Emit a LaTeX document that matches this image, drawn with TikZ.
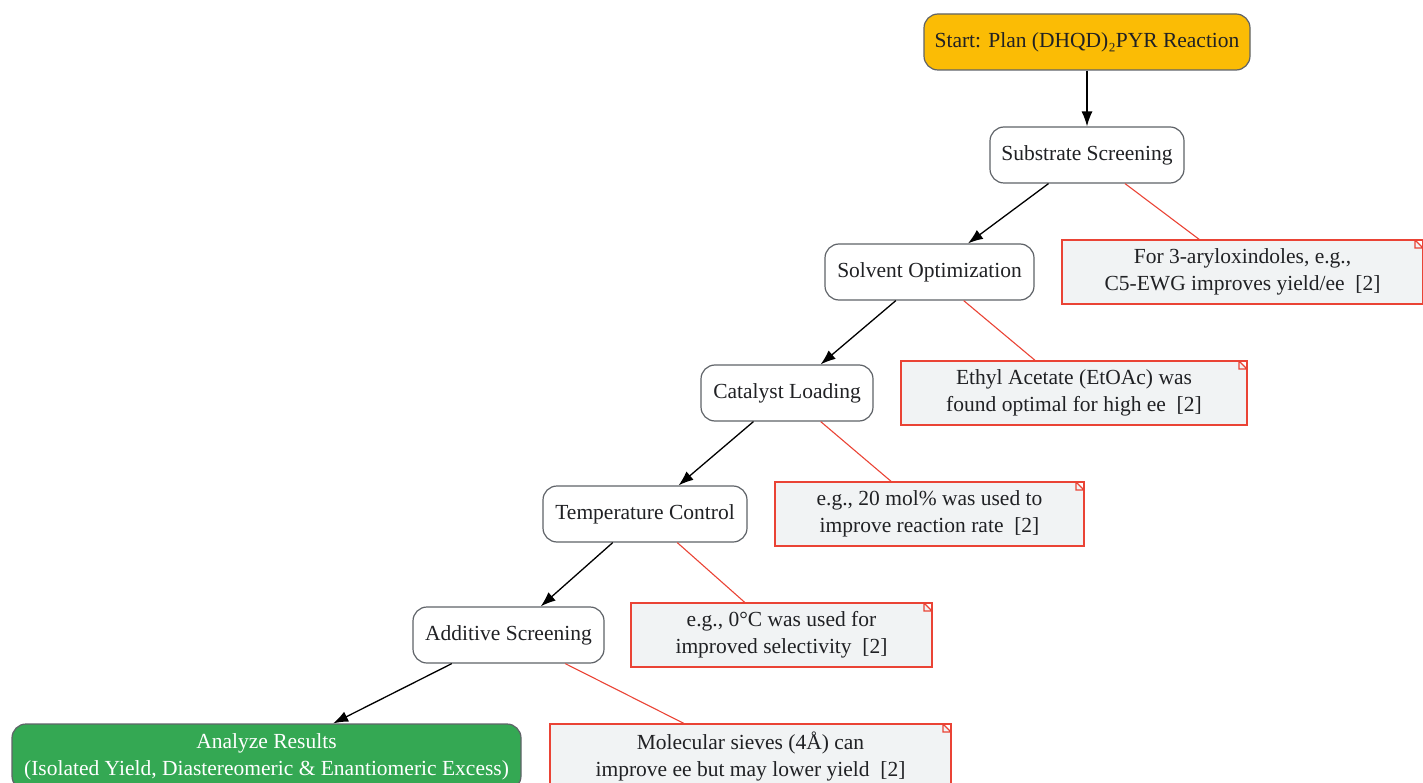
\documentclass[tikz,border=0pt]{standalone}
\usepackage{fontspec}
\setmainfont{Liberation Serif}
\usepackage{tikz}
\usetikzlibrary{arrows.meta}

\definecolor{startfill}{HTML}{FBBC05}
\definecolor{endfill}{HTML}{34A853}
\definecolor{notefill}{HTML}{F1F3F4}
\definecolor{notered}{HTML}{EA4335}
\definecolor{boxgray}{HTML}{5F6368}
\definecolor{txt}{HTML}{202124}

\begin{document}
\begin{tikzpicture}[x=1pt,y=-1pt]
\tikzstyle{stage}=[draw=boxgray, line width=1.2pt, rounded corners=14pt, minimum height=56pt, inner sep=0pt, align=center, text=txt, font=\fontsize{21.5}{27}\selectfont]
\tikzstyle{stage1}=[stage, fill=startfill]
\tikzstyle{stage2}=[stage, fill=white]
\tikzstyle{stage3}=[stage, fill=endfill, text=white, minimum height=66pt]
\tikzstyle{remark}=[draw=notered, line width=1.2pt, fill=notefill, minimum height=64pt, inner sep=0pt, align=center, text=txt, font=\fontsize{21.5}{27}\selectfont,
  path picture={\fill[white] (path picture bounding box.north east) -- ++(-8pt,0) -- ++(8pt,-8pt) -- cycle;
    \draw[notered, line width=1.2pt] ([xshift=-8pt]path picture bounding box.north east) -- ++(0,-8pt) -- ++(8pt,0) -- cycle;}]
\tikzstyle{flow}=[draw=black, line width=1.3pt, -{Latex[length=15pt,width=11pt]}]
\tikzstyle{link}=[draw=notered, line width=1.1pt]

\useasboundingbox (0,0) rectangle (1423,783);

\node (s0) at (1087,42) [stage1, minimum width=326pt] {Start: Plan (DHQD)₂PYR Reaction};
\node (s1) at (1087,155) [stage2, minimum width=194pt] {Substrate Screening};
\node (s2) at (929.5,272) [stage2, minimum width=209pt] {Solvent Optimization};
\node (s3) at (787,393) [stage2, minimum width=172pt] {Catalyst Loading};
\node (s4) at (645,514) [stage2, minimum width=204pt] {Temperature Control};
\node (s5) at (508.5,635) [stage2, minimum width=191pt] {Additive Screening};
\node (s6) at (266.5,757) [stage3, minimum width=509pt] {Analyze Results\\(Isolated Yield, Diastereomeric \& Enantiomeric Excess)};

\node (n1) at (1242.5,272) [remark, minimum width=361pt] {For 3-aryloxindoles, e.g.,\\C5-EWG improves yield/ee~~[2]};
\node (n2) at (1074,393) [remark, minimum width=346pt] {Ethyl Acetate (EtOAc) was\\found optimal for high ee~~[2]};
\node (n3) at (929.5,514) [remark, minimum width=309pt] {e.g., 20 mol\% was used to\\improve reaction rate~~[2]};
\node (n4) at (781.5,635) [remark, minimum width=301pt] {e.g., 0°C was used for\\improved selectivity~~[2]};
\node (n5) at (750.5,757) [remark, minimum width=401pt, minimum height=66pt] {Molecular sieves (4Å) can\\improve ee but may lower yield~~[2]};

% main sequence
\draw[flow] (s0) -- (s1);
\draw[flow] (s1) -- (s2);
\draw[flow] (s2) -- (s3);
\draw[flow] (s3) -- (s4);
\draw[flow] (s4) -- (s5);
\draw[flow] (s5) -- (s6);

% notes
\draw[link] (s1) -- (n1);
\draw[link] (s2) -- (n2);
\draw[link] (s3) -- (n3);
\draw[link] (s4) -- (n4);
\draw[link] (s5) -- (n5);
\end{tikzpicture}
\end{document}
